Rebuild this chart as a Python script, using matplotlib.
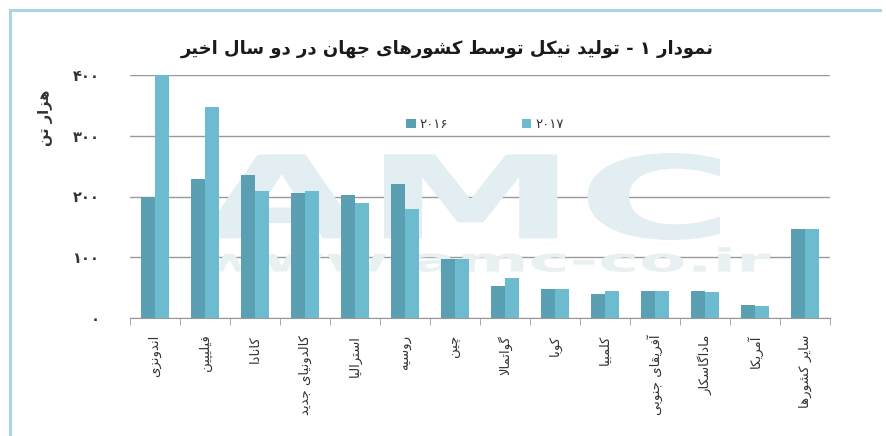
import re
import matplotlib
matplotlib.use('Agg')
import matplotlib.pyplot as plt
import numpy as np
from matplotlib.textpath import TextPath
from matplotlib.patches import PathPatch, Patch
from matplotlib.font_manager import FontProperties
from matplotlib.transforms import Affine2D
from matplotlib.lines import Line2D

# ---------------- data ----------------
title = 'نمودار ۱ - تولید نیکل توسط کشورهای جهان در دو سال اخیر'
ylabel = 'هزار تن'
categories = ['اندونزی', 'فیلیپین', 'کانادا', 'کالدونیای جدید', 'استرالیا', 'روسیه',
              'چین', 'گواتمالا', 'کوبا', 'کلمبیا', 'آفریقای جنوبی', 'ماداگاسکار',
              'آمریکا', 'سایر کشورها']
series_names = ['۲۰۱۶', '۲۰۱۷']
values_2016 = [199, 228, 235, 205, 203, 221, 97, 52, 48, 39, 45, 45, 21, 147]
values_2017 = [400, 348, 209, 209, 189, 180, 97, 66, 48, 45, 45, 42, 20, 147]
yticks = [0, 100, 200, 300, 400]
ytick_labels = ['۰', '۱۰۰', '۲۰۰', '۳۰۰', '۴۰۰']

# ---------------- minimal Persian shaping ----------------
DUAL = {'ب': 0xFE8F, 'ت': 0xFE95, 'ث': 0xFE99, 'ج': 0xFE9D, 'ح': 0xFEA1, 'خ': 0xFEA5,
        'س': 0xFEB1, 'ش': 0xFEB5, 'ص': 0xFEB9, 'ض': 0xFEBD, 'ط': 0xFEC1, 'ظ': 0xFEC5,
        'ع': 0xFEC9, 'غ': 0xFECD, 'ف': 0xFED1, 'ق': 0xFED5, 'ل': 0xFEDD, 'م': 0xFEE1,
        'ن': 0xFEE5, 'ه': 0xFEE9, 'پ': 0xFB56, 'چ': 0xFB7A, 'ک': 0xFB8E, 'گ': 0xFB92,
        'ی': 0xFBFC}
RIGHT = {'ا': 0xFE8D, 'آ': 0xFE81, 'د': 0xFEA9, 'ذ': 0xFEAB, 'ر': 0xFEAD, 'ز': 0xFEAF,
         'ژ': 0xFB8A, 'و': 0xFEED}
LAMALEF = {'ا': (0xFEFB, 0xFEFC), 'آ': (0xFEF5, 0xFEF6)}


def shape(s):
    ch = list(s)
    out = []
    i = 0
    while i < len(ch):
        c = ch[i]
        prev = ch[i - 1] if i > 0 else None
        cp = prev is not None and prev in DUAL
        if c == 'ل' and i + 1 < len(ch) and ch[i + 1] in LAMALEF:
            iso, fin = LAMALEF[ch[i + 1]]
            out.append(chr(fin if cp else iso))
            i += 2
            continue
        if c in DUAL:
            nxt = ch[i + 1] if i + 1 < len(ch) else None
            cn = nxt is not None and (nxt in DUAL or nxt in RIGHT)
            form = 3 if (cp and cn) else 1 if cp else 2 if cn else 0
            out.append(chr(DUAL[c] + form))
        elif c in RIGHT:
            out.append(chr(RIGHT[c] + (1 if cp else 0)))
        else:
            out.append(c)
        i += 1
    return ''.join(out)


def fa(s):
    shaped = shape(s)
    runs = re.findall(r'[0-9\u06F0-\u06F9]+|[^0-9\u06F0-\u06F9]+', shaped)
    res = []
    for r in reversed(runs):
        if re.match(r'[0-9\u06F0-\u06F9]', r):
            res.append(r)
        else:
            res.append(r[::-1])
    return ''.join(res)


# ---------------- figure ----------------
W, H = 887, 436
fig = plt.figure(figsize=(W / 100, H / 100), dpi=100)
fig.patch.set_facecolor('white')

x0p, x1p, y0p, y1p = 130, 830, 318, 75
ax = fig.add_axes([x0p / W, 1 - y0p / H, (x1p - x0p) / W, (y0p - y1p) / H])

dark = '#5b9fb3'
light = '#6dbbce'
n = len(categories)
x = np.arange(n)
bw = 0.287
ax.bar(x - bw / 2, values_2016, width=bw, color=dark, zorder=3, label=fa(series_names[0]))
ax.bar(x + bw / 2, values_2017, width=bw, color=light, zorder=3, label=fa(series_names[1]))

ax.set_xlim(-0.5, n - 0.5)
ax.set_ylim(0, 400)
ax.set_yticks(yticks)
ax.set_yticklabels([fa(t) for t in ytick_labels], fontweight='bold')
ax.yaxis.grid(True, color='#9a9a9a', lw=1.0, zorder=1)
ax.set_axisbelow(True)
for s in ['top', 'right', 'left']:
    ax.spines[s].set_visible(False)
ax.spines['bottom'].set_color('#9a9a9a')
ax.spines['bottom'].set_zorder(4)
ax.tick_params(axis='y', length=0, pad=22, labelsize=10.5, labelcolor='#333333')

ax.set_xticks(x)
ax.set_xticklabels([fa(c) for c in categories], rotation=90, fontsize=9.5,
                   color='#333333', va='top', ha='center')
ax.tick_params(axis='x', which='major', length=0, pad=12)
ax.set_xticks(np.arange(-0.5, n, 1.0), minor=True)
ax.tick_params(axis='x', which='minor', length=5, color='#9a9a9a', direction='out')

fig.text(46 / W, 1 - 118 / H, fa(ylabel), rotation=90, ha='center', va='center',
         fontsize=10.5, fontweight='bold', color='#333333')

fig.text(447 / W, 1 - 49 / H, fa(title), ha='center', va='center', fontsize=13,
         fontweight='bold', color='#1a1a1a')

handles = [Patch(facecolor=dark), Patch(facecolor=light)]
fig.legend(handles, [fa(series_names[0]), fa(series_names[1])], loc='center',
           bbox_to_anchor=(485 / W, 1 - 125 / H), ncol=2, frameon=False,
           fontsize=9.5, handlelength=0.7, handleheight=0.7, handletextpad=0.3,
           columnspacing=5.6, labelcolor='#333333')

# ---------------- watermark ----------------
def watermark(text, box, color):
    fp = FontProperties(family='DejaVu Sans', weight='bold')
    tp = TextPath((0, 0), text, size=1, prop=fp)
    bb = tp.get_extents()
    bx0, by0, bx1, by1 = box  # pixel coords, y from top
    tr = (Affine2D().translate(-bb.x0, -bb.y0)
          .scale((bx1 - bx0) / W / bb.width, (by1 - by0) / H / bb.height)
          .translate(bx0 / W, 1 - by1 / H)) + fig.transFigure
    p = PathPatch(tp, facecolor=color, edgecolor='none', transform=tr, zorder=2)
    ax.add_patch(p)


watermark('AMC', (200, 153, 720, 240), '#e2eef1')
watermark('www.amc-co.ir', (200, 247, 770, 272), '#e9f0f2')

# ---------------- border ----------------
bc = '#a9d6df'
fig.add_artist(Line2D([10 / W, 880 / W], [1 - 10 / H, 1 - 10 / H], color=bc, lw=2.2,
                      transform=fig.transFigure))
fig.add_artist(Line2D([10 / W, 10 / W], [1 - 10 / H, 0], color=bc, lw=2.2,
                      transform=fig.transFigure))

fig.savefig('out.png', dpi=100, facecolor='white')
